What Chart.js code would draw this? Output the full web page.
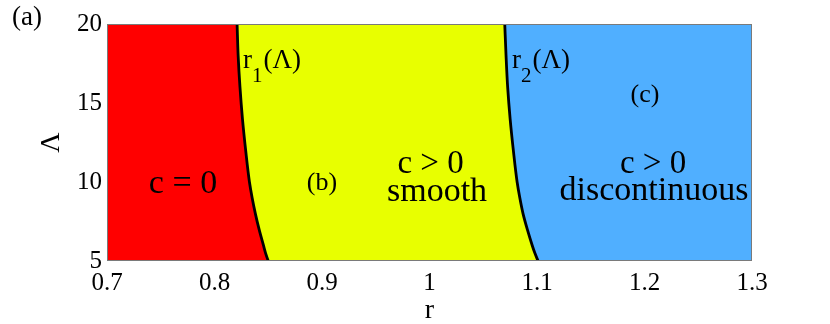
<!DOCTYPE html>
<html>
<head>
<meta charset="utf-8">
<script src="https://cdn.jsdelivr.net/npm/chart.js@4/dist/chart.umd.min.js"></script>
<style>
  html, body { margin: 0; padding: 0; background: #ffffff; }
  #wrap { width: 830px; height: 324px; position: relative; }
</style>
</head>
<body>
<div id="wrap"><canvas id="c" width="830" height="324"></canvas></div>
<script>
// ---- data ----
const lambdaValues = [5, 5.5, 6, 7, 8, 9, 10, 12, 14, 16, 18, 20];
const r1Values     = [0.850, 0.8475, 0.8455, 0.8415, 0.838, 0.835, 0.8325, 0.829, 0.826, 0.8237, 0.822, 0.821];
const r2Values     = [1.101, 1.098, 1.0955, 1.091, 1.087, 1.084, 1.0815, 1.078, 1.075, 1.0727, 1.0712, 1.070];
const xTickValues  = [0.7, 0.8, 0.9, 1.0, 1.1, 1.2, 1.3];
const xTickLabels  = ['0.7', '0.8', '0.9', '1', '1.1', '1.2', '1.3'];
const yTickValues  = [5, 10, 15, 20];
const yTickLabels  = ['5', '10', '15', '20'];
const xRange = [0.7, 1.3];
const yRange = [5, 20];

// region annotations (text anchored in data units)
const regionLabels = [
  { text: 'c = 0',         r: 0.7707, lam: 9.30,  size: 34 },
  { text: '(b)',           r: 0.900,  lam: 9.49,  size: 26 },
  { text: 'c > 0',         r: 1.001,  lam: 10.57, size: 33 },
  { text: 'smooth',        r: 1.007,  lam: 8.80,  size: 34 },
  { text: '(c)',           r: 1.2005, lam: 15.06, size: 26 },
  { text: 'c > 0',         r: 1.208,  lam: 10.57, size: 33 },
  { text: 'discontinuous', r: 1.2088, lam: 8.86,  size: 34 }
];
const curveLabels = [
  { main: 'r', sub: '1', tail: '(\u039B)', r: 0.8265, lam: 17.22 },
  { main: 'r', sub: '2', tail: '(\u039B)', r: 1.0767, lam: 17.22 }
];

const SERIF = '"Liberation Serif", "Times New Roman", serif';
const RED = '#FF0000', YELLOW = '#E8FF00', BLUE = '#50AFFF';

const pts = (xs) => xs.map((x, i) => ({ x: x, y: lambdaValues[i] }));

Chart.defaults.color = '#000';
Chart.defaults.font.family = SERIF;

const textPlugin = {
  id: 'texts',
  afterDatasetsDraw(chart) {
    const ctx = chart.ctx;
    const xs = chart.scales.x, ys = chart.scales.y;
    const a = chart.chartArea;
    ctx.save();
    // frame of the plot area
    ctx.strokeStyle = '#7a7a7a';
    ctx.lineWidth = 1;
    ctx.strokeRect(a.left + 0.5, a.top + 0.5, a.right - a.left - 1, a.bottom - a.top - 1);

    ctx.fillStyle = '#000';
    ctx.textBaseline = 'alphabetic';
    ctx.textAlign = 'center';
    regionLabels.forEach(l => {
      ctx.font = l.size + 'px ' + SERIF;
      ctx.fillText(l.text, xs.getPixelForValue(l.r), ys.getPixelForValue(l.lam));
    });
    ctx.textAlign = 'left';
    curveLabels.forEach(l => {
      let x = xs.getPixelForValue(l.r);
      const y = ys.getPixelForValue(l.lam);
      ctx.font = '27px ' + SERIF;
      ctx.fillText(l.main, x, y);
      x += ctx.measureText(l.main).width;
      ctx.font = '21px ' + SERIF;
      ctx.fillText(l.sub, x, y + 14);
      x += ctx.measureText(l.sub).width + 1;
      ctx.font = '27px ' + SERIF;
      ctx.fillText(l.tail, x, y);
    });
    // panel label
    ctx.font = '27px ' + SERIF;
    ctx.fillText('(a)', 12, 25);
    ctx.restore();
  }
};

new Chart(document.getElementById('c'), {
  type: 'line',
  data: {
    datasets: [
      { data: pts(r1Values), borderColor: '#000', borderWidth: 2.8, backgroundColor: RED,
        fill: { value: xRange[0] }, pointRadius: 0 },
      { data: pts(r2Values), borderColor: '#000', borderWidth: 2.8, backgroundColor: BLUE,
        fill: { value: xRange[1] }, pointRadius: 0 },
      { data: pts(r2Values), borderColor: 'rgba(0,0,0,0)', borderWidth: 0, backgroundColor: YELLOW,
        fill: 0, pointRadius: 0 }
    ]
  },
  options: {
    indexAxis: 'y',
    responsive: false,
    animation: false,
    layout: { padding: { left: 0, top: 24, right: 78, bottom: 0 } },
    plugins: { legend: { display: false }, tooltip: { enabled: false } },
    elements: { line: { cubicInterpolationMode: 'monotone' } },
    scales: {
      x: {
        type: 'linear', position: 'bottom', min: xRange[0], max: xRange[1],
        grid: { display: false, drawTicks: false },
        border: { display: false },
        afterBuildTicks: (s) => { s.ticks = xTickValues.map(v => ({ value: v })); },
        afterFit: (s) => { s.height = 63; },
        ticks: {
          autoSkip: false, maxRotation: 0, padding: 7,
          font: { size: 25, family: SERIF },
          callback: (v, i) => xTickLabels[i]
        },
        title: { display: true, text: 'r', font: { size: 28, family: SERIF }, padding: { top: 0, bottom: -3 } }
      },
      y: {
        type: 'linear', position: 'left', min: yRange[0], max: yRange[1],
        grid: { display: false, drawTicks: false },
        border: { display: false },
        afterBuildTicks: (s) => { s.ticks = yTickValues.map(v => ({ value: v })); },
        afterFit: (s) => { s.width = 107; },
        ticks: {
          autoSkip: false, padding: 5,
          font: { size: 25, family: SERIF },
          callback: (v, i) => yTickLabels[i]
        },
        title: { display: true, text: '\u039B', font: { size: 28, family: SERIF }, padding: { top: 35, bottom: 0 } }
      }
    }
  },
  plugins: [textPlugin]
});
</script>
</body>
</html>
